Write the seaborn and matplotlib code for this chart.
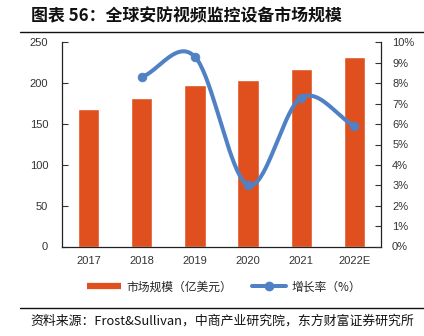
import numpy as np
import pandas as pd
import matplotlib
matplotlib.use("Agg")
import matplotlib.pyplot as plt
from matplotlib.lines import Line2D
import seaborn as sns

# ---- data ----
years = ["2017", "2018", "2019", "2020", "2021", "2022E"]
market_size = [168, 182, 198, 204, 218, 232]          # 亿美元
growth_years = ["2018", "2019", "2020", "2021", "2022E"]
growth_rate = [8.3, 9.3, 3.0, 7.3, 5.9]               # %
left_ticks = [0, 50, 100, 150, 200, 250]
right_ticks = list(range(0, 11))

title = "图表 56：全球安防视频监控设备市场规模"
source = "资料来源：Frost&Sullivan，中商产业研究院，东方财富证券研究所"
bar_label = "市场规模（亿美元）"
line_label = "增长率（%）"

BAR_C = "#E0501E"
LINE_C = "#4F81C4"
NUM_FONT = ["Liberation Sans", "DejaVu Sans"]

sns.set_theme(style="white")
plt.rcParams["font.family"] = ["Noto Sans CJK SC", "DejaVu Sans"]
plt.rcParams["axes.unicode_minus"] = False

W, H = 424, 336
fig = plt.figure(figsize=(W / 100, H / 100), dpi=100)
ax = fig.add_axes([62 / W, 1 - 246.5 / H, (381 - 62) / W, (246.5 - 42.5) / H])

df = pd.DataFrame({"year": years, "size": market_size})
sns.barplot(data=df, x="year", y="size", color=BAR_C, saturation=1, width=0.4, ax=ax, order=years)
ax.set_xlim(-0.5, len(years) - 0.5)
ax.set_ylim(left_ticks[0], left_ticks[-1])
ax.set_yticks(left_ticks)
ax.set_yticklabels([str(t) for t in left_ticks], fontsize=8, color="#333333", family=NUM_FONT)
ax.set_xlabel("")
ax.set_ylabel("")
ax.set_xticks(np.arange(len(years) - 1) + 0.5, minor=False)
ax.set_xticklabels([])
ax.tick_params(axis="x", which="major", direction="in", length=4, width=0.8, colors="#333333")
for i, y in enumerate(years):
    ax.text(i, -0.045, y, transform=ax.get_xaxis_transform(), ha="center", va="top",
            fontsize=8, color="#333333", family=NUM_FONT)
ax.tick_params(axis="y", direction="in", length=4, width=0.8, colors="#333333", pad=10)
for s in ["left", "bottom"]:
    ax.spines[s].set_color("#222222")
    ax.spines[s].set_linewidth(0.9)
ax.spines["top"].set_visible(False)
ax.spines["right"].set_visible(False)

ax2 = ax.twinx()
ax2.set_ylim(right_ticks[0], right_ticks[-1])
ax2.set_yticks(right_ticks)
ax2.set_yticklabels([f"{t}%" for t in right_ticks], fontsize=8, color="#333333", family=NUM_FONT)
ax2.tick_params(axis="y", direction="in", length=4, width=0.8, colors="#333333", pad=8)
ax2.spines["right"].set_color("#222222")
ax2.spines["right"].set_linewidth(0.9)
for s in ["left", "top", "bottom"]:
    ax2.spines[s].set_visible(False)
ax2.grid(False)

# smoothed line (Catmull-Rom rendering through the data points)
gx = np.array([years.index(y) for y in growth_years], dtype=float)
gy = np.array(growth_rate, dtype=float)
px = np.concatenate([[2 * gx[0] - gx[1]], gx, [2 * gx[-1] - gx[-2]]])
py = np.concatenate([[2 * gy[0] - gy[1]], gy, [2 * gy[-1] - gy[-2]]])
cx, cy = [], []
t = np.linspace(0, 1, 40)
for i in range(1, len(px) - 2):
    p0, p1, p2, p3 = [np.array([px[j], py[j]]) for j in (i - 1, i, i + 1, i + 2)]
    pts = 0.5 * ((2 * p1)[None, :] + (-p0 + p2)[None, :] * t[:, None]
                 + (2 * p0 - 5 * p1 + 4 * p2 - p3)[None, :] * (t ** 2)[:, None]
                 + (-p0 + 3 * p1 - 3 * p2 + p3)[None, :] * (t ** 3)[:, None])
    cx.extend(pts[:, 0]); cy.extend(pts[:, 1])
ax2.plot(cx, cy, color=LINE_C, lw=2.9, solid_capstyle="round", zorder=3)
sns.scatterplot(x=gx, y=gy, ax=ax2, color=LINE_C, s=40, edgecolor=LINE_C, zorder=4, legend=False)

# title and rules
fig.text(31 / W, 1 - 16 / H, title, fontsize=12.2, fontweight="bold", ha="left", va="center", color="#111111")
fig.add_artist(Line2D([20 / W, 1.0], [1 - 32 / H, 1 - 32 / H], color="#111111", lw=1.0))
fig.add_artist(Line2D([20 / W, 1.0], [1 - 307.5 / H, 1 - 307.5 / H], color="#111111", lw=1.0))
fig.text(30 / W, 1 - 321 / H, source, fontsize=9.3, ha="left", va="center", color="#111111")

handles = [Line2D([], [], color=BAR_C, lw=4.5, solid_capstyle="butt"),
           Line2D([], [], color=LINE_C, lw=2.9, marker="o", markersize=6)]
fig.legend(handles, [bar_label, line_label], loc="center", bbox_to_anchor=(224 / W, 1 - 287 / H),
           ncol=2, frameon=False, fontsize=8.5, handlelength=2.9, columnspacing=1.7,
           handletextpad=0.45, borderaxespad=0)

fig.savefig("out.png", dpi=100)
